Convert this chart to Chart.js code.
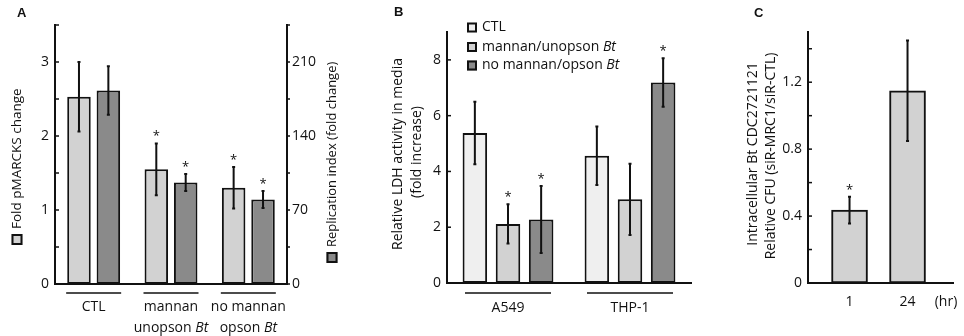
<!DOCTYPE html>
<html>
<head>
<meta charset="utf-8">
<script src="https://cdn.jsdelivr.net/npm/chart.js@4.4.1/dist/chart.umd.min.js"></script>
<style>
  html, body { margin: 0; padding: 0; background: #fff; }
  #wrap { position: relative; width: 964px; height: 336px; }
  #wrap canvas { position: absolute; left: 0; top: 0; }
</style>
</head>
<body>
<div id="wrap">
  <canvas id="chartA" width="964" height="336"></canvas>
  <canvas id="chartB" width="964" height="336"></canvas>
  <canvas id="chartC" width="964" height="336"></canvas>
</div>
<script>
// A: pMARCKS (left axis) and replication index (right axis)
const groupsA = ['CTL', 'mannan\nunopson Bt', 'no mannan\nopson Bt'];
const pmarcks = [2.53, 1.55, 1.30];
const pmarcksErr = [0.47, 0.35, 0.28];
const pmarcksSig = [false, true, true];
const replication = [183, 96, 80];
const replicationErr = [23, 8, 8];
const replicationSig = [false, true, true];
const pmarcksTicks = [0, 1, 2, 3];
const replicationTicks = [0, 70, 140, 210];

// B: LDH release
const cellLines = ['A549', 'THP-1'];
const ldhCtl = [5.38, 4.56];
const ldhCtlErr = [1.12, 1.05];
const ldhMannan = [2.12, 3.0];
const ldhMannanErr = [0.7, 1.28];
const ldhNoMannan = [2.28, 7.19];
const ldhNoMannanErr = [1.2, 0.87];
const ldhSig = [[false, false], [true, false], [true, true]];
const ldhTicks = [0, 2, 4, 6, 8];

// C: intracellular CFU
const hours = ['1', '24'];
const cfu = [0.436, 1.149];
const cfuErr = [0.08, 0.30];
const cfuSig = [true, false];
const cfuTicks = [0, 0.4, 0.8, 1.2];

const FONT = '"Open Sans", "DejaVu Sans", sans-serif';
const INK = '#111';
const PALE = '#efefef';
const LIGHT = '#d2d2d2';
const DARK = '#8a8a8a';

function near(v, list) {
  return list.some(t => Math.abs(t - v) < 1e-6);
}
function onStep(v, step) {
  return Math.abs(v / step - Math.round(v / step)) < 1e-6;
}

// text with a trailing italic "Bt"
function richText(ctx, str, x, y, size, align) {
  const italic = str.endsWith(' Bt');
  const head = italic ? str.slice(0, -2) : str;
  ctx.font = size + 'px ' + FONT;
  const w1 = ctx.measureText(head).width;
  let w2 = 0;
  if (italic) {
    ctx.font = 'italic ' + size + 'px ' + FONT;
    w2 = ctx.measureText('Bt').width;
  }
  const x0 = align === 'center' ? x - (w1 + w2) / 2 : x;
  ctx.textAlign = 'left';
  ctx.font = size + 'px ' + FONT;
  ctx.fillText(head, x0, y);
  if (italic) {
    ctx.font = 'italic ' + size + 'px ' + FONT;
    ctx.fillText('Bt', x0 + w1, y);
  }
}

function swatch(ctx, x, y, s, fill) {
  ctx.fillStyle = fill;
  ctx.fillRect(x, y, s, s);
  ctx.lineWidth = 2;
  ctx.strokeStyle = INK;
  ctx.strokeRect(x + 1, y + 1, s - 2, s - 2);
}

function errorBars(errs, sigs) {
  return {
    id: 'errorBars',
    afterDatasetsDraw(chart) {
      const ctx = chart.ctx;
      ctx.save();
      ctx.strokeStyle = INK;
      ctx.fillStyle = INK;
      ctx.lineWidth = 2;
      chart.data.datasets.forEach((ds, d) => {
        const meta = chart.getDatasetMeta(d);
        const sc = chart.scales[meta.yAxisID];
        meta.data.forEach((bar, i) => {
          const v = meta.controller.getParsed(i).y;
          const e = errs[d][i];
          const top = sc.getPixelForValue(v + e);
          const bot = sc.getPixelForValue(v - e);
          ctx.beginPath();
          ctx.moveTo(bar.x, top);
          ctx.lineTo(bar.x, bot);
          ctx.moveTo(bar.x - 1.5, top);
          ctx.lineTo(bar.x + 1.5, top);
          ctx.moveTo(bar.x - 1.5, bot);
          ctx.lineTo(bar.x + 1.5, bot);
          ctx.stroke();
          if (sigs[d][i]) {
            ctx.font = '13px ' + FONT;
            ctx.textAlign = 'center';
            ctx.textBaseline = 'alphabetic';
            ctx.fillText('*', bar.x, top - 3);
          }
        });
      });
      ctx.restore();
    }
  };
}

function tickMarks(specs) {
  return {
    id: 'tickMarks',
    afterDraw(chart) {
      const ctx = chart.ctx;
      const area = chart.chartArea;
      ctx.save();
      ctx.strokeStyle = INK;
      ctx.lineWidth = 1.5;
      specs.forEach(s => {
        const sc = chart.scales[s.axis];
        sc.ticks.forEach(t => {
          if (!s.keep(t.value)) return;
          const y = sc.getPixelForValue(t.value);
          const x0 = s.side === 'left' ? area.left : area.right;
          ctx.beginPath();
          ctx.moveTo(x0, y);
          ctx.lineTo(x0 + s.dir * s.len, y);
          ctx.stroke();
        });
      });
      ctx.restore();
    }
  };
}

function groupLabels(labels, o) {
  return {
    id: 'groupLabels',
    afterDraw(chart) {
      const ctx = chart.ctx;
      const xs = chart.scales.x;
      ctx.save();
      ctx.fillStyle = INK;
      ctx.strokeStyle = INK;
      ctx.textBaseline = 'middle';
      labels.forEach((lab, i) => {
        const cx = xs.getPixelForValue(i);
        if (o.rule) {
          ctx.lineWidth = 1.5;
          ctx.beginPath();
          ctx.moveTo(cx - o.rule / 2, o.ruleY);
          ctx.lineTo(cx + o.rule / 2, o.ruleY);
          ctx.stroke();
        }
        lab.split('\n').forEach((ln, k) => richText(ctx, ln, cx, o.textY + k * o.lineH, o.size, 'center'));
      });
      ctx.restore();
    }
  };
}

function rotated(ctx, x, y, draw) {
  ctx.save();
  ctx.translate(x, y);
  ctx.rotate(-Math.PI / 2);
  draw();
  ctx.restore();
}

function panelLetter(ctx, ch, x, y) {
  ctx.save();
  ctx.fillStyle = INK;
  ctx.font = 'bold 13px "Liberation Sans", Arial, sans-serif';
  ctx.textAlign = 'left';
  ctx.textBaseline = 'alphabetic';
  ctx.fillText(ch, x, y);
  ctx.restore();
}

function baseX(extra) {
  return Object.assign({
    grid: { display: false, drawTicks: false },
    ticks: { display: false },
    border: { display: true, width: 2, color: INK },
    afterFit: s => { s.height = 0; }
  }, extra || {});
}

function valueAxis(pos, min, max, step, labelled) {
  return {
    position: pos, min: min, max: max,
    grid: { display: false, drawTicks: false },
    border: { display: true, width: 2, color: INK },
    ticks: {
      stepSize: step,
      padding: pos === 'left' ? 6 : 5,
      color: INK,
      font: { family: FONT, size: 14 },
      callback: v => near(v, labelled) ? String(+v.toFixed(2)) : ''
    },
    afterFit: s => { s.width = 40; }
  };
}

const common = {
  responsive: false,
  animation: false,
  devicePixelRatio: 1,
  events: [],
  plugins: { legend: { display: false }, tooltip: { enabled: false } }
};

function barStyle(color) {
  return { backgroundColor: color, borderColor: INK, borderWidth: 2, borderSkipped: false };
}

// ---------- Panel A ----------
new Chart(document.getElementById('chartA'), {
  type: 'bar',
  data: {
    labels: groupsA,
    datasets: [
      Object.assign({ label: 'Fold pMARCKS change', data: pmarcks, yAxisID: 'y',
        barPercentage: 0.8, categoryPercentage: 0.76 }, barStyle(LIGHT)),
      Object.assign({ label: 'Replication index (fold change)', data: replication, yAxisID: 'y1',
        barPercentage: 0.8, categoryPercentage: 0.76 }, barStyle(DARK))
    ]
  },
  options: Object.assign({}, common, {
    layout: { padding: { left: 15, right: 637, top: 25, bottom: 52 } },
    scales: {
      x: baseX(),
      y: valueAxis('left', 0, 3.5, 0.5, pmarcksTicks),
      y1: valueAxis('right', 0, 245, 35, replicationTicks)
    }
  }),
  plugins: [
    errorBars([pmarcksErr, replicationErr], [pmarcksSig, replicationSig]),
    tickMarks([
      { axis: 'y', side: 'left', dir: 1, len: 4, keep: () => true },
      { axis: 'y1', side: 'right', dir: 1, len: 3, keep: () => true }
    ]),
    groupLabels(groupsA, { rule: 55, ruleY: 293, textY: 307, lineH: 21.5, size: 14 }),
    {
      id: 'titlesA',
      afterDraw(chart) {
        const ctx = chart.ctx;
        const ds = chart.data.datasets;
        panelLetter(ctx, 'A', 17, 17);
        ctx.save();
        ctx.fillStyle = INK;
        ctx.textBaseline = 'middle';
        rotated(ctx, 17, 245, () => {
          swatch(ctx, 0, -5.5, 11, ds[0].backgroundColor);
          ctx.fillStyle = INK;
          ctx.font = '13.5px ' + FONT;
          ctx.textAlign = 'left';
          ctx.fillText(ds[0].label, 16, 0);
        });
        rotated(ctx, 332, 263, () => {
          swatch(ctx, 0, -5.5, 11, ds[1].backgroundColor);
          ctx.fillStyle = INK;
          ctx.font = '13px ' + FONT;
          ctx.textAlign = 'left';
          ctx.fillText(ds[1].label, 16, 0);
        });
        ctx.restore();
      }
    }
  ]
});

// ---------- Panel B ----------
new Chart(document.getElementById('chartB'), {
  type: 'bar',
  data: {
    labels: cellLines,
    datasets: [
      Object.assign({ label: 'CTL', data: ldhCtl, barPercentage: 0.74, categoryPercentage: 0.815 }, barStyle(PALE)),
      Object.assign({ label: 'mannan/unopson Bt', data: ldhMannan, barPercentage: 0.74, categoryPercentage: 0.815 }, barStyle(LIGHT)),
      Object.assign({ label: 'no mannan/opson Bt', data: ldhNoMannan, barPercentage: 0.74, categoryPercentage: 0.815 }, barStyle(DARK))
    ]
  },
  options: Object.assign({}, common, {
    layout: { padding: { left: 407, right: 273, top: 32, bottom: 53 } },
    scales: {
      x: baseX(),
      y: valueAxis('left', 0, 9, 2, ldhTicks)
    }
  }),
  plugins: [
    errorBars([ldhCtlErr, ldhMannanErr, ldhNoMannanErr], ldhSig),
    tickMarks([{ axis: 'y', side: 'left', dir: 1, len: 4, keep: v => near(v, [0, 2, 4, 6, 8]) }]),
    groupLabels(cellLines, { rule: 86, ruleY: 293, textY: 308, lineH: 20, size: 14 }),
    {
      id: 'titlesB',
      afterDraw(chart) {
        const ctx = chart.ctx;
        panelLetter(ctx, 'B', 394, 16);
        ctx.save();
        ctx.fillStyle = INK;
        ctx.textBaseline = 'middle';
        rotated(ctx, 398, 154, () => {
          ctx.font = '14px ' + FONT;
          ctx.textAlign = 'center';
          ctx.fillText('Relative LDH activity in media', 0, 0);
        });
        rotated(ctx, 417, 152, () => {
          ctx.font = '14px ' + FONT;
          ctx.textAlign = 'center';
          ctx.fillText('(fold increase)', 0, 0);
        });
        // legend
        const rows = [27.5, 47, 65.5];
        chart.data.datasets.forEach((ds, d) => {
          swatch(ctx, 467, rows[d] - 5, 10, ds.backgroundColor);
          ctx.fillStyle = INK;
          richText(ctx, ds.label, 482, rows[d], 14, 'left');
        });
        ctx.restore();
      }
    }
  ]
});

// ---------- Panel C ----------
new Chart(document.getElementById('chartC'), {
  type: 'bar',
  data: {
    datasets: [
      Object.assign({ label: 'Relative CFU', data: cfu.map((v, i) => ({ x: i, y: v })), barThickness: 36 }, barStyle(LIGHT))
    ]
  },
  options: Object.assign({}, common, {
    layout: { padding: { left: 768, right: 11, top: 32, bottom: 53 } },
    scales: {
      x: baseX({ type: 'linear', offset: false, min: -0.716, max: 1.784 }),
      y: valueAxis('left', 0, 1.5, 0.2, cfuTicks)
    }
  }),
  plugins: [
    errorBars([cfuErr], [cfuSig]),
    tickMarks([{ axis: 'y', side: 'left', dir: 1, len: 4, keep: v => v < 1.45 && onStep(v, 0.2) }]),
    groupLabels(hours, { rule: 0, textY: 302, lineH: 20, size: 14 }),
    {
      id: 'titlesC',
      afterDraw(chart) {
        const ctx = chart.ctx;
        panelLetter(ctx, 'C', 754, 17);
        ctx.save();
        ctx.fillStyle = INK;
        ctx.textBaseline = 'middle';
        ctx.font = '14px ' + FONT;
        ctx.textAlign = 'center';
        ctx.fillText('(hr)', 946, 302);
        rotated(ctx, 753, 154, () => {
          ctx.font = '14px ' + FONT;
          ctx.textAlign = 'center';
          ctx.fillText('Intracellular Bt CDC2721121', 0, 0);
        });
        rotated(ctx, 771, 156, () => {
          ctx.font = '14px ' + FONT;
          ctx.textAlign = 'center';
          ctx.fillText('Relative CFU (siR-MRC1/siR-CTL)', 0, 0);
        });
        ctx.restore();
      }
    }
  ]
});
</script>
</body>
</html>
